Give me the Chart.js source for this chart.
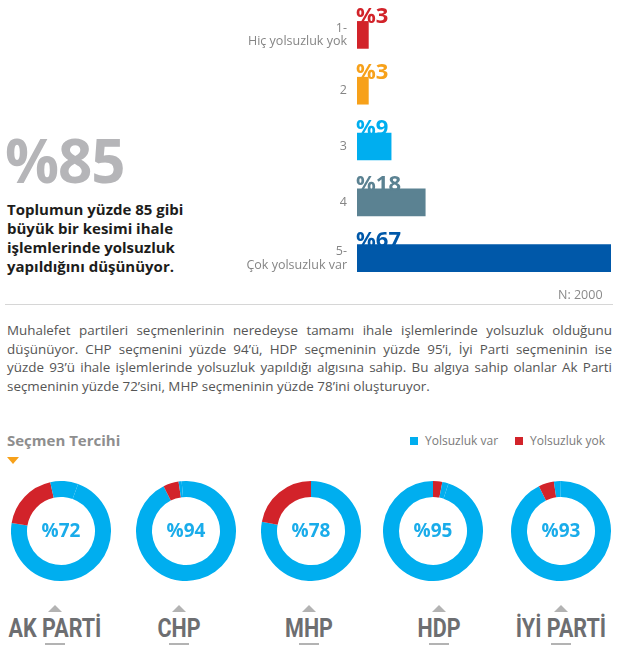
<!DOCTYPE html>
<html>
<head>
<meta charset="utf-8">
<script src="https://cdn.jsdelivr.net/npm/chart.js@4"></script>
<style>
  body { margin:0; background:#fff; font-family:"Open Sans", sans-serif; }
  #page { position:relative; width:640px; height:649px; overflow:hidden; }
  .abs { position:absolute; }
  #big { left:5px; top:125px; font-size:60px; font-weight:700; color:#b5b5b8; letter-spacing:-1px; line-height:70px; }
  #lead { left:7px; top:200px; width:200px; font-size:15px; font-weight:700; color:#1d1d1b; line-height:19px; }
  #nval { left:558px; top:286px; font-size:12.5px; color:#8a8a8a; }
  #rule { left:5px; top:304px; width:608px; height:1px; background:#d6d6d6; }
  #para { left:7px; top:321px; width:605px; font-size:13.4px; color:#555; line-height:18.5px; }
  #para div { text-align:justify; text-align-last:justify; white-space:nowrap; }
  #para div.last { text-align-last:left; }
  #sec { left:7px; top:430px; font-size:15px; font-weight:700; color:#8e8e8e; }
  #tri { left:7px; top:457px; width:0; height:0; border-left:6px solid transparent; border-right:6px solid transparent; border-top:7px solid #f7a11a; }
  .lg { top:432px; font-size:12px; color:#7a7a7a; }
  .sq { display:inline-block; width:8px; height:8px; margin-right:7px; vertical-align:0px; }
  .party { top:614px; width:120px; text-align:center; font-family:"Roboto",sans-serif; font-size:25px; font-weight:700; color:#6d6e71; transform:scaleX(0.86); }
  .up { top:605px; width:0; height:0; border-left:7px solid transparent; border-right:7px solid transparent; border-bottom:7px solid #b3b3b3; }
  .ul { top:643px; width:20px; height:2px; background:#b3b3b3; }
</style>
</head>
<body>
<div id="page">
  <div class="abs" style="left:230px;top:0;width:390px;height:300px;"><canvas id="bars"></canvas></div>
  <div id="big" class="abs">%85</div>
  <div id="lead" class="abs">Toplumun yüzde 85 gibi büyük bir kesimi ihale işlemlerinde yolsuzluk yapıldığını düşünüyor.</div>
  <div id="nval" class="abs">N: 2000</div>
  <div id="rule" class="abs"></div>
  <div id="para" class="abs">
    <div>Muhalefet partileri seçmenlerinin neredeyse tamamı ihale işlemlerinde yolsuzluk olduğunu</div>
    <div>düşünüyor. CHP seçmenini yüzde 94’ü, HDP seçmeninin yüzde 95’i, İyi Parti seçmeninin ise</div>
    <div>yüzde 93’ü ihale işlemlerinde yolsuzluk yapıldığı algısına sahip. Bu algıya sahip olanlar Ak Parti</div>
    <div class="last">seçmeninin yüzde 72’sini, MHP seçmeninin yüzde 78’ini oluşturuyor.</div>
  </div>
  <div id="sec" class="abs">Seçmen Tercihi</div>
  <div id="tri" class="abs"></div>
  <div class="abs lg" style="left:410px;"><span class="sq" style="background:#00aeef"></span>Yolsuzluk var</div>
  <div class="abs lg" style="left:515px;"><span class="sq" style="background:#d2232a"></span>Yolsuzluk yok</div>
  <div id="donuts"></div>
</div>
<script>
// top chart: "ihale işlemlerinde yolsuzluk" 1-5 scale
const responseLabels = [['1-', 'Hiç yolsuzluk yok'], '2', '3', '4', ['5-', 'Çok yolsuzluk var']];
const responseShares = [3, 3, 9, 18, 67];
const responseColors = ['#d2232a', '#f7a11a', '#00aeef', '#5b8292', '#0058a9'];

// party breakdown
const parties = ['AK PARTİ', 'CHP', 'MHP', 'HDP', 'İYİ PARTİ'];
const yolsuzlukVar = [72, 94, 78, 95, 93];
const yolsuzlukYok = [19, 5, 22, 3, 5];
const digerCevap = [9, 1, 0, 2, 2];

const blue = '#00aeef', red = '#d2232a';
const centersX = [61, 186, 311, 433, 561];
const labelX = [55, 179, 309, 439, 561];
const rotations = [20, -5, 0, 18, -1];

// value text above each bar
const barValues = {
  id: 'barValues',
  afterDatasetsDraw(chart) {
    const ctx = chart.ctx;
    const x0 = chart.scales.x.getPixelForValue(0);
    const meta = chart.getDatasetMeta(0);
    ctx.save();
    ctx.font = 'bold 22px "Open Sans", sans-serif';
    ctx.textAlign = 'left';
    ctx.textBaseline = 'alphabetic';
    meta.data.forEach((bar, i) => {
      ctx.fillStyle = responseColors[i];
      ctx.fillText('%' + responseShares[i], x0 - 1, bar.y - bar.height / 2 + 2);
    });
    ctx.restore();
  }
};

new Chart(document.getElementById('bars'), {
  type: 'bar',
  data: {
    labels: responseLabels,
    datasets: [{
      data: responseShares,
      backgroundColor: responseColors,
      borderWidth: 0,
      barThickness: 27
    }]
  },
  options: {
    indexAxis: 'y',
    responsive: true,
    maintainAspectRatio: false,
    animation: false,
    layout: { padding: { top: 7, bottom: 14, right: 9 } },
    plugins: { legend: { display: false }, tooltip: { enabled: false } },
    scales: {
      x: { display: false, min: 0, max: 67 },
      y: {
        grid: { display: false, drawTicks: false },
        border: { display: false },
        afterFit(s) { s.width = 127; s.paddingTop = 0; s.paddingBottom = 0; },
        ticks: {
          color: '#858585',
          padding: 10,
          font: { family: '"Open Sans", sans-serif', size: 12.5, lineHeight: 1.1 }
        }
      }
    }
  },
  plugins: [barValues]
});

// center percentage inside each ring
const centerText = {
  id: 'centerText',
  afterDraw(chart) {
    const ctx = chart.ctx;
    const arc = chart.getDatasetMeta(0).data[0];
    ctx.save();
    ctx.font = 'bold 19px "Open Sans", sans-serif';
    ctx.fillStyle = '#1aacea';
    ctx.textAlign = 'center';
    ctx.textBaseline = 'middle';
    ctx.fillText('%' + chart.data.datasets[0].data[0], arc.x, arc.y + 1);
    ctx.restore();
  }
};

const holder = document.getElementById('donuts');
parties.forEach((p, i) => {
  const wrap = document.createElement('div');
  wrap.className = 'abs';
  wrap.style.cssText = `left:${centersX[i] - 50}px;top:481px;width:100px;height:100px;`;
  const cv = document.createElement('canvas');
  wrap.appendChild(cv);
  holder.appendChild(wrap);

  const lbl = document.createElement('div');
  lbl.className = 'abs party';
  lbl.style.left = (labelX[i] - 60) + 'px';
  lbl.textContent = p;
  holder.appendChild(lbl);

  const up = document.createElement('div');
  up.className = 'abs up';
  up.style.left = (labelX[i] - 7) + 'px';
  holder.appendChild(up);

  const ul = document.createElement('div');
  ul.className = 'abs ul';
  ul.style.left = (labelX[i] - 10) + 'px';
  holder.appendChild(ul);

  new Chart(cv, {
    type: 'doughnut',
    data: {
      labels: ['Yolsuzluk var', 'Yolsuzluk yok', 'Diğer'],
      datasets: [{
        data: [yolsuzlukVar[i], yolsuzlukYok[i], digerCevap[i]],
        backgroundColor: [blue, red, blue],
        borderWidth: 0
      }]
    },
    options: {
      responsive: true,
      maintainAspectRatio: false,
      animation: false,
      rotation: rotations[i],
      cutout: '68%',
      plugins: { legend: { display: false }, tooltip: { enabled: false } }
    },
    plugins: [centerText]
  });
});
</script>
</body>
</html>
